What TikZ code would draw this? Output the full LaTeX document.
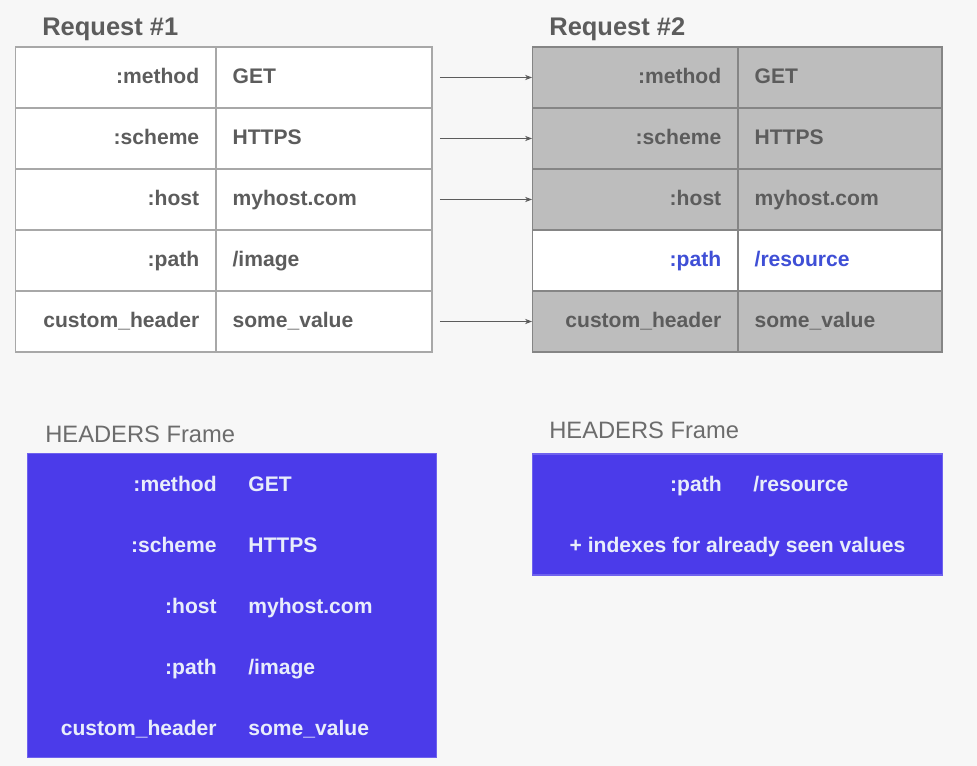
\documentclass[tikz,border=0pt]{standalone}
\usepackage{fontspec}
\setmainfont{Liberation Sans}
\usetikzlibrary{arrows.meta}
\definecolor{pagebg}{HTML}{F7F7F7}
\definecolor{txtgrey}{HTML}{5C5C5C}
\definecolor{linegrey}{HTML}{A8A8A8}
\definecolor{oldfill}{HTML}{BDBDBD}
\definecolor{oldline}{HTML}{858585}
\definecolor{newblue}{HTML}{3F4FD6}
\definecolor{frameblue}{HTML}{4B3BEA}
\definecolor{frametxt}{HTML}{E8EDFB}
\tikzset{
  cellfont/.style={font=\bfseries\fontsize{12}{14}\selectfont},
  cell/.style={cellfont, draw=linegrey, line width=0.8pt, fill=white, text=txtgrey,
    minimum height=1.22cm, inner xsep=0.32cm, inner ysep=0pt,
    text height=0.85em, text depth=0.15em},
  oldcell/.style={fill=oldfill, draw=oldline},
  newcell/.style={fill=white, draw=oldline, text=newblue},
  copyarrow/.style={draw=txtgrey, line width=0.7pt, -{Stealth[length=4pt,width=3pt]}, shorten <=7*0.02cm},
  title/.style={font=\bfseries\fontsize{14.5}{17}\selectfont, text=txtgrey, inner sep=0pt, anchor=base west},
  frametitle/.style={font=\fontsize{13.5}{16}\selectfont, text=txtgrey!90, inner sep=0pt, anchor=base west},
  framebox/.style={fill=frameblue, draw=frameblue!80!white, line width=0.6pt},
  frameentry/.style={cellfont, text=frametxt, inner sep=0pt}
}
\begin{document}
\begin{tikzpicture}[x=0.02cm,y=-0.02cm]
  \fill[pagebg](0,0)rectangle(977,766);
  \useasboundingbox(0,0)rectangle(977,766);
  % request tables
  \node[title] (req1) at (42,36) {Request \#1};
  \node[title] (req2) at (549,36) {Request \#2};
  \foreach \k/\v/\s [count=\i] in {:method/GET/oldcell, :scheme/HTTPS/oldcell,
      :host/myhost.com/oldcell, :path/{/image}/newcell, custom\_header/some\_value/oldcell}{
    \pgfmathsetmacro\yc{16.5+61*\i}
    \node[cell, text width=3.35cm, align=right] (r1k\i) at (115.5,\yc) {\k};
    \node[cell, text width=3.67cm, align=left, anchor=west] (r1v\i) at (r1k\i.east) {\v};
  }
  \foreach \k/\v/\s [count=\i] in {:method/GET/oldcell, :scheme/HTTPS/oldcell,
      :host/myhost.com/oldcell, :path/{/resource}/newcell, custom\_header/some\_value/oldcell}{
    \pgfmathsetmacro\yc{16.5+61*\i}
    \node[cell, \s, text width=3.45cm, align=right] (r2k\i) at (635,\yc) {\k};
    \node[cell, \s, text width=3.43cm, align=left, anchor=west] (r2v\i) at (r2k\i.east) {\v};
  }
  \foreach \i in {1,2,3,5}
    \draw[copyarrow] (r1v\i.east) -- (r2k\i.west);
  % headers frames
  \node[frametitle] (hf1) at (45,443) {HEADERS Frame};
  \node[frametitle] (hf2) at (549,439) {HEADERS Frame};
  \node[framebox, minimum width=8.2cm, minimum height=6.1cm] (frame1) at (232,605.5) {};
  \node[framebox, minimum width=8.22cm, minimum height=2.42cm] (frame2) at (737.5,514.5) {};
  \foreach \k/\v [count=\i] in {:method/GET, :scheme/HTTPS, :host/myhost.com,
      :path/{/image}, custom\_header/some\_value}{
    \pgfmathsetmacro\yc{426+61*\i}
    \node[frameentry, anchor=mid east] (f1k\i) at (217,\yc) {\k};
    \node[frameentry, anchor=mid west] (f1v\i) at (248,\yc) {\v};
  }
  \node[frameentry, anchor=mid east] (f2k) at (722,487) {:path};
  \node[frameentry, anchor=mid west] (f2v) at (753,487) {/resource};
  \node[frameentry, anchor=mid] (f2note) at (737.5,548) {+ indexes for already seen values};
\end{tikzpicture}
\end{document}
